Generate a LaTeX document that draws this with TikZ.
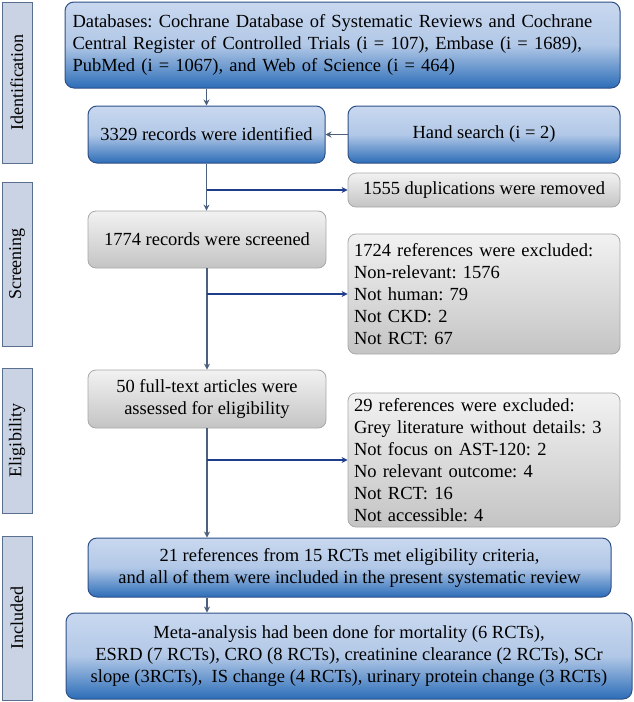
\documentclass[tikz,border=0pt]{standalone}
\usepackage{fontspec}
\setmainfont{Liberation Serif}
\usetikzlibrary{arrows.meta}
\definecolor{bluetop}{HTML}{C9D8EF}
\definecolor{bluebot}{HTML}{2C6DB8}
\definecolor{blueedge}{HTML}{2F4F86}
\definecolor{greytop}{HTML}{F2F2F2}
\definecolor{greybot}{HTML}{C4C4C4}
\definecolor{greyedge}{HTML}{A8A8A8}
\definecolor{labfill}{HTML}{C9D3E3}
\definecolor{labedge}{HTML}{5A6E8E}
\definecolor{mainline}{HTML}{4C5F7D}
\definecolor{branchline}{HTML}{1F3D8A}
\frenchspacing
\begin{document}
\begin{tikzpicture}[x=1pt,y=1pt,
  every node/.style={font=\fontsize{18.5}{22}\selectfont},
  bluebox/.style={draw=blueedge,line width=1pt,rounded corners=9pt,top color=bluetop,bottom color=bluebot,middle color=bluetop!85!bluebot,shading angle=0,align=center,inner sep=0pt},
  greybox/.style={draw=greyedge,line width=0.8pt,rounded corners=8pt,top color=greytop,bottom color=greybot,align=center,inner sep=0pt},
  lab/.style={draw=labedge,line width=1pt,fill=labfill,minimum width=30,inner sep=0pt,font=\fontsize{18}{20}\selectfont},
  mainarr/.style={draw=mainline,line width=1.5pt,-{Stealth[length=6pt,width=6pt]}},
  brarr/.style={draw=branchline,line width=1.5pt,-{Stealth[length=6pt,width=6pt]}}]
\useasboundingbox (0,0) rectangle (634,-702);
\node[lab,minimum height=161] (L1) at (17,-82.5) {\rotatebox{90}{Identification}};
\node[lab,minimum height=164] (L2) at (17,-264) {\rotatebox{90}{Screening}};
\node[lab,minimum height=145] (L3) at (17,-440.5) {\rotatebox{90}{Eligibility}};
\node[lab,minimum height=164] (L4) at (17,-618) {\rotatebox{90}{Included}};
\node[bluebox,minimum width=555,minimum height=86,text width=540,align=left] (A) at (342.5,-45) {Databases: Cochrane Database of Systematic Reviews and Cochrane\\Central Register of Controlled Trials (i = 107), Embase (i = 1689),\\PubMed (i = 1067), and Web of Science (i = 464)};
\node[bluebox,minimum width=237,minimum height=57] (B) at (206.5,-134.5) {3329 records were identified};
\node[bluebox,minimum width=272,minimum height=57] (H) at (484,-134.5) {Hand search (i = 2)};
\node[greybox,minimum width=272,minimum height=34] (D) at (484,-190) {1555 duplications were removed};
\node[greybox,minimum width=238,minimum height=57] (S) at (207,-239.5) {1774 records were screened};
\node[greybox,minimum width=272,minimum height=120,text width=260,align=left] (X1) at (484,-294) {1724 references were excluded:\\Non-relevant: 1576\\Not human: 79\\Not CKD: 2\\Not RCT: 67};
\node[greybox,minimum width=238,minimum height=58] (F) at (207,-399) {50 full-text articles were\\assessed for eligibility};
\node[greybox,minimum width=272,minimum height=134,text width=260,align=left] (X2) at (484,-460) {29 references were excluded:\\Grey literature without details: 3\\Not focus on AST-120: 2\\No relevant outcome: 4\\Not RCT: 16\\Not accessible: 4};
\node[bluebox,minimum width=523,minimum height=59] (I) at (349.5,-567.5) {21 references from 15 RCTs met eligibility criteria,\\and all of them were included in the present systematic review};
\node[bluebox,minimum width=566,minimum height=86] (M) at (349,-656) {Meta-analysis had been done for mortality (6 RCTs),\\ESRD (7 RCTs), CRO (8 RCTs), creatinine clearance (2 RCTs), SCr\\slope (3RCTs),\ \ IS change (4 RCTs), urinary protein change (3 RCTs)};
\draw[mainarr] (A.south -| B.north) -- (B.north);
\draw[mainarr] (H.west) -- (B.east);
\draw[mainarr] (B.south) -- (S.north -| B.south);
\draw[brarr] (B.south |- D.west) -- (D.west);
\draw[mainarr] (S.south) -- (F.north);
\draw[brarr] (S.south |- X1.west) -- (X1.west);
\draw[mainarr] (F.south) -- (I.north -| F.south);
\draw[brarr] (F.south |- X2.west) -- (X2.west);
\draw[mainarr] (I.south -| F.south) -- (M.north -| F.south);
\end{tikzpicture}
\end{document}
